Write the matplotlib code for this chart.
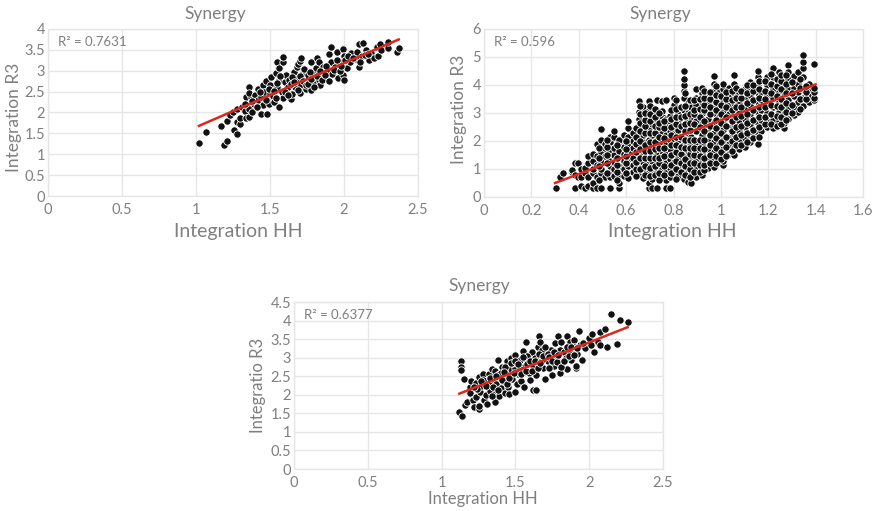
import matplotlib
matplotlib.use('Agg')
import matplotlib.pyplot as plt

plt.rcParams['font.family'] = ['Lato', 'DejaVu Sans']

# panel 1 as (HH, R3)
pts_a = [(1.02,1.28),(1.07,1.54),(1.17,1.67),(1.19,1.21),(1.21,1.32),(1.21,1.8),(1.23,1.95),(1.25,2.0),(1.26,1.57),(1.28,1.48),
 (1.28,1.78),(1.3,1.73),(1.28,2.08),(1.3,1.87),(1.31,2.13),(1.33,2.03),(1.34,1.87),(1.34,2.38),(1.36,2.08),(1.36,2.62),
 (1.36,1.9),(1.37,2.38),(1.36,2.47),(1.38,2.0),(1.39,2.2),(1.4,2.42),(1.42,2.3),(1.42,2.56),(1.44,1.96),(1.44,2.37),
 (1.45,2.18),(1.45,2.66),(1.46,2.49),(1.47,2.75),(1.48,1.96),(1.48,2.33),(1.49,2.21),(1.5,2.47),(1.5,2.66),(1.51,2.84),
 (1.52,2.4),(1.53,2.24),(1.54,2.95),(1.55,2.6),(1.56,2.13),(1.55,3.22),(1.56,2.78),(1.56,3.06),(1.58,2.5),(1.59,2.35),
 (1.59,3.2),(1.59,3.33),(1.6,2.72),(1.61,2.9),(1.62,2.6),(1.63,2.78),(1.64,2.32),(1.65,2.45),(1.66,2.96),(1.67,2.6),
 (1.68,2.8),(1.68,3.08),(1.69,3.16),(1.7,3.23),(1.71,3.3),(1.7,2.46),(1.71,2.66),(1.72,2.95),(1.74,2.56),(1.75,2.78),
 (1.76,2.9),(1.78,2.55),(1.78,3.22),(1.79,2.7),(1.8,2.94),(1.81,3.06),(1.82,3.3),(1.83,2.78),(1.83,3.2),(1.84,2.65),
 (1.85,2.96),(1.86,3.1),(1.88,2.8),(1.89,3.0),(1.9,3.4),(1.91,3.57),(1.91,3.2),(1.92,2.92),(1.94,3.1),(1.95,3.45),
 (1.96,2.82),(1.97,3.22),(1.99,3.53),(1.99,2.9),(2.0,2.78),(2.0,3.35),(2.02,3.07),(2.04,3.2),(2.05,3.42),(2.08,3.28),
 (2.09,3.46),(2.1,3.09),(2.1,3.63),(2.12,3.35),(2.13,3.66),(2.15,3.5),(2.17,3.26),(2.18,3.42),(2.2,3.3),(2.22,3.56),
 (2.23,3.35),(2.24,3.65),(2.25,3.5),(2.3,3.54),(2.3,3.69),(2.36,3.44),(2.37,3.55),
 # denser middle of the band
 (1.33,2.2),(1.38,2.28),(1.41,2.12),(1.43,2.48),(1.47,2.3),(1.49,2.56),(1.53,2.52),(1.54,2.35),(1.55,2.7),(1.57,2.88),
 (1.6,2.5),(1.62,2.42),(1.64,2.68),(1.65,2.86),(1.66,2.72),(1.69,2.55),(1.7,2.88),(1.72,2.75),(1.73,3.05),(1.74,2.65),
 (1.76,2.68),(1.77,2.98),(1.78,2.8),(1.8,2.62),(1.82,2.88),(1.84,3.0),(1.85,2.78),(1.87,2.9),(1.88,3.12),(1.9,2.75),
 (1.93,3.02),(1.95,3.25),(1.97,3.0),(1.98,3.12),(2.01,3.25),(2.03,3.35),(2.06,3.3),(2.11,3.22),(2.14,3.38),(2.16,3.4)]

# panel 2, the cloud sits in columns so one x with its y values
cols_b = [(0.305,[0.33]),(0.32,[0.7]),(0.335,[0.87]),(0.37,[0.88,0.98]),(0.385,[0.32,0.8,1.2]),(0.395,[1.2,0.7]),
 (0.41,[0.4,0.7,1.0]),(0.425,[0.33,0.85,1.05]),(0.44,[0.4,0.7,1.2,1.45]),(0.46,[0.33,0.5,0.85,1.0,1.3,1.55]),
 (0.475,[0.33,0.7,1.15,1.45,1.9]),(0.495,[0.33,0.85,1.0,1.25,1.6,2.02,2.42]),(0.51,[0.7,1.45,1.75,1.9]),
 (0.53,[0.33,0.7,0.9,1.1,1.3,1.6,1.95,2.15]),(0.55,[0.75,1.0,1.25,1.5,1.75,2.15,2.37]),
 (0.57,[0.33,0.5,0.8,1.1,1.4,1.65,1.95,2.05]),(0.59,[0.75,1.0,1.3,1.55,1.8,2.2]),
 (0.61,[0.68,1.1,1.35,1.6,1.85,2.15,2.45,2.7]),(0.63,[0.9,1.15,1.4,1.75,2.0,2.3]),
 (0.655,[0.85,1.1,1.3,1.55,1.8,2.1,2.5,2.8,3.05,3.42]),(0.67,[0.68,0.95,1.25,1.5,1.95,2.2,2.65,3.2]),
 (0.695,[0.33,0.5,0.9,1.2,1.75,2.05,2.4,2.85,3.1,3.42]),(0.71,[0.33,0.65,1.0,1.3,1.55,1.85,2.2,2.6,3.0]),
 (0.73,[0.33,0.9,1.15,1.5,1.8,2.05,2.4,2.75,3.45]),(0.75,[0.7,1.0,1.3,1.65,1.95,2.3,2.55,2.9,3.08,3.42]),
 (0.77,[0.33,0.6,0.9,1.2,1.55,1.85,2.2,2.6,2.8,3.45]),(0.785,[0.33,0.7,1.05,1.35,1.7,2.05,2.35,2.7,2.9]),
 (0.8,[0.9,1.25,1.55,1.95,2.3,2.5,2.7,3.3,3.55]),(0.82,[0.75,1.05,1.4,1.7,2.05,2.4,2.75,2.95]),
 (0.845,[0.65,0.95,1.2,1.45,1.9,2.2,2.45,3.1,3.55,3.8,4.0,4.2,4.5]),(0.86,[0.55,0.9,1.3,1.65,2.0,2.3,2.75,3.0,3.35]),
 (0.875,[0.5,0.8,1.1,1.45,1.85,2.15,2.5,2.85,3.2]),(0.895,[0.7,1.0,1.3,1.6,1.95,2.35,2.7,3.3,3.55,3.85]),
 (0.92,[0.78,1.05,1.25,1.55,1.9,2.2,2.6,3.0,3.4,3.7,3.9]),(0.945,[1.05,1.35,1.7,2.05,2.45,2.8,3.1,3.35,3.6]),
 (0.97,[1.08,1.4,1.6,1.95,2.3,2.65,3.0,3.25,3.8,4.02,4.32]),(0.99,[1.25,1.5,1.85,2.2,2.55,2.85,3.2,3.55,3.75]),
 (1.01,[1.15,1.3,1.7,2.05,2.4,2.7,3.05,3.4,3.85,4.05]),(1.035,[1.55,1.9,2.15,2.5,2.95,3.3,3.6,3.9]),
 (1.055,[1.5,1.75,2.05,2.25,2.6,2.95,3.35,3.7,4.05,4.36]),(1.075,[1.7,2.0,2.35,2.7,3.0,3.35,3.7]),
 (1.1,[1.8,2.1,2.5,2.8,3.15,3.5,3.85]),(1.125,[1.95,2.2,2.6,2.95,3.3,3.65,3.9,4.1]),
 (1.155,[1.9,2.3,2.65,3.05,3.4,3.7,3.95,4.28,4.5]),(1.17,[2.35,2.75,3.1,3.45,3.75]),
 (1.195,[2.5,2.7,3.0,3.35,3.65,4.0,4.3]),(1.22,[2.45,2.75,3.2,3.55,3.85,4.3,4.62]),
 (1.245,[2.7,3.05,3.4,3.75,4.05,4.45]),(1.265,[2.48,2.65,2.95,3.3,3.6,3.95,4.25]),
 (1.285,[2.8,3.15,3.45,3.85,4.2,4.7,4.45]),(1.31,[2.93,3.2,3.6,3.9,4.32]),(1.325,[3.05,3.4,3.75,4.05,4.45]),
 (1.345,[3.25,3.55,3.85,4.3,4.62,4.83,5.06]),(1.37,[3.4,3.6,3.85,4.05]),(1.395,[3.45,3.55,3.75,3.88,4.76]),
 # second pass through the thick part of the cloud
 (0.485,[0.6,1.1,1.4,1.75]),(0.52,[0.85,1.2,1.5,1.8,2.05]),(0.56,[0.6,0.9,1.15,1.4,1.85]),(0.6,[0.85,1.2,1.45,1.7,2.0]),
 (0.64,[0.75,1.0,1.25,1.6,1.9,2.15,2.45]),(0.66,[1.0,1.4,1.7,2.0,2.35,2.65,2.95,3.25]),(0.68,[0.8,1.1,1.4,1.65,1.85,2.3,2.55,2.75,3.0]),
 (0.7,[0.75,1.05,1.4,1.65,1.95,2.3,2.7,2.95,3.25]),(0.72,[0.8,1.1,1.4,1.7,1.95,2.3,2.55,2.85,3.15]),
 (0.74,[0.6,0.85,1.2,1.4,1.75,2.15,2.5,2.65,3.0]),(0.76,[0.8,1.1,1.45,1.75,2.1,2.45,2.7]),(0.79,[0.85,1.15,1.5,1.85,2.2,2.5,2.8,3.1]),
 (0.81,[0.65,1.0,1.3,1.6,1.85,2.15,2.6,2.85,3.15,3.45]),(0.83,[0.9,1.2,1.55,1.8,2.15,2.55,2.85,3.2]),
 (0.85,[0.8,1.1,1.35,1.75,2.05,2.35,2.6,2.9,3.25,3.7]),(0.87,[0.7,1.0,1.2,1.55,1.75,2.05,2.4,2.65,2.95,3.45]),
 (0.885,[0.9,1.2,1.5,1.75,2.05,2.6,2.95,3.1,3.45]),(0.91,[0.9,1.15,1.45,1.75,2.05,2.5,2.85,3.15,3.5]),
 (0.93,[0.95,1.15,1.4,1.7,2.05,2.35,2.7,3.1,3.3,3.55,3.8]),(0.955,[1.2,1.5,1.85,2.2,2.55,2.95,3.2,3.5,3.75]),
 (0.98,[1.2,1.45,1.75,2.1,2.45,2.75,3.1,3.4,3.65,3.95]),(1.0,[1.35,1.6,1.95,2.3,2.65,2.95,3.3,3.6]),
 (1.02,[1.45,1.8,2.15,2.55,2.85,3.2,3.5,3.75]),(1.045,[1.65,2.0,2.35,2.7,3.1,3.45,3.8]),(1.065,[1.85,2.15,2.5,2.85,3.2,3.55,3.9]),
 (1.085,[1.85,2.2,2.55,2.9,3.2,3.55,3.8]),(1.11,[1.95,2.3,2.65,2.95,3.35,3.7,4.0]),(1.135,[2.1,2.4,2.75,3.1,3.45,3.8,4.0]),
 (1.16,[2.15,2.5,2.85,3.2,3.55,3.85,4.15]),(1.185,[2.6,2.85,3.2,3.5,3.8,4.15]),(1.21,[2.6,2.95,3.3,3.7,4.05,4.4]),
 (1.235,[2.55,2.9,3.25,3.6,3.95,4.2]),(1.255,[2.6,2.85,3.2,3.5,3.85,4.15,4.35]),(1.275,[2.75,3.05,3.35,3.7,4.05,4.35]),
 (1.3,[3.0,3.3,3.7,4.1]),(1.335,[3.15,3.5,3.9,4.2]),(1.36,[3.5,3.75,3.95])]

# panel 3
pts_c = [(1.12,1.53),(1.14,1.44),(1.13,2.9),(1.13,2.75),(1.13,2.67),(1.15,2.42),(1.16,1.72),(1.17,1.8),(1.19,2.2),(1.19,2.05),
 (1.2,2.36),(1.21,1.85),(1.22,1.68),(1.23,2.33),(1.23,1.95),(1.25,1.62),(1.25,1.7),(1.25,2.47),(1.26,2.08),(1.27,2.25),
 (1.28,2.55),(1.29,1.85),(1.3,2.0),(1.31,1.76),(1.32,2.3),(1.32,2.55),(1.33,2.1),(1.34,2.7),(1.35,2.42),(1.36,2.02),
 (1.36,1.81),(1.36,2.65),(1.37,2.3),(1.38,2.93),(1.39,1.96),(1.39,2.55),(1.4,2.18),(1.41,2.75),(1.42,2.38),(1.43,2.05),
 (1.44,2.9),(1.45,2.55),(1.45,2.22),(1.46,2.02),(1.47,2.7),(1.47,3.0),(1.48,2.42),(1.5,3.08),(1.5,2.72),(1.51,2.3),
 (1.5,2.08),(1.52,2.56),(1.53,2.95),(1.54,2.38),(1.55,3.17),(1.56,2.75),(1.56,2.22),(1.57,3.43),(1.58,2.95),(1.59,2.6),
 (1.6,2.4),(1.61,3.15),(1.62,2.13),(1.62,2.78),(1.64,2.13),(1.64,2.53),(1.65,3.3),(1.65,2.95),(1.66,3.58),(1.67,3.42),
 (1.68,3.2),(1.69,2.72),(1.7,2.43),(1.71,3.05),(1.72,2.9),(1.74,3.22),(1.75,2.53),(1.76,2.78),(1.77,3.4),(1.78,3.0),
 (1.79,3.58),(1.8,2.6),(1.8,3.22),(1.81,3.42),(1.82,2.92),(1.83,3.15),(1.85,2.7),(1.85,3.58),(1.87,3.42),(1.88,2.95),
 (1.89,3.22),(1.9,3.48),(1.91,2.72),(1.91,2.78),(1.92,3.1),(1.93,3.72),(1.94,3.35),(1.95,2.93),(1.97,3.25),(2.0,3.52),
 (2.01,3.33),(2.02,3.65),(2.03,3.15),(2.06,3.42),(2.07,3.33),(2.07,3.69),(2.11,3.77),(2.12,3.28),(2.15,4.17),(2.19,3.37),
 (2.21,4.02),(2.26,3.95),(1.24,2.15),(1.28,2.4),(1.34,1.98),(1.4,2.6),(1.43,2.75),(1.48,2.85),(1.53,2.7),(1.58,3.05),
 (1.63,3.0),(1.68,2.95),(1.73,2.72),(1.77,2.92),(1.84,3.0),(1.87,3.18),(1.9,3.3),(1.96,3.4),
 # denser middle of the band
 (1.22,2.2),(1.27,2.38),(1.3,2.25),(1.33,2.45),(1.35,2.22),(1.37,2.5),(1.38,2.12),(1.41,2.4),(1.42,2.62),(1.44,2.28),
 (1.46,2.45),(1.47,2.85),(1.49,2.58),(1.5,2.9),(1.52,2.82),(1.54,2.55),(1.55,3.02),(1.57,2.65),(1.58,2.82),(1.6,2.92),
 (1.61,2.65),(1.63,2.9),(1.65,2.72),(1.66,3.1),(1.67,2.85),(1.69,3.05),(1.7,3.28),(1.72,3.1),(1.73,3.02),(1.75,2.92),
 (1.76,3.15),(1.78,2.88),(1.79,3.08),(1.81,2.75),(1.83,2.92),(1.85,3.28),(1.86,3.05),(1.88,3.3),(1.9,3.08),(1.92,3.25)]

x_b = [c[0] for c in cols_b for _ in c[1]]
y_b = [v for c in cols_b for v in c[1]]

trend_a = ([1.02, 2.37], [1.68, 3.75])
trend_b = ([0.30, 1.40], [0.50, 4.02])
trend_c = ([1.12, 2.26], [2.03, 3.82])

GREY = '#7f7f7f'
GRID = '#e6e6e6'
W, H = 877, 511

fig = plt.figure(figsize=(W/100, H/100), dpi=100)


def label(xp, yp, s, size, rot=0):
    fig.text(xp/W, 1-yp/H, s, fontsize=size, color=GREY, ha='center', va='center', rotation=rot)


def panel(box, x, y, trend, xmax, xstep, ymax, ystep, r2):
    left, top, right, bottom = box
    ax = fig.add_axes([left/W, 1-bottom/H, (right-left)/W, (bottom-top)/H])
    ax.scatter(x, y, s=28, c='#111111', edgecolors='white', linewidths=0.6, zorder=3, clip_on=False)
    ax.plot(trend[0], trend[1], color='#d9281e', lw=1.8, zorder=4)
    ax.set_xlim(0, xmax)
    ax.set_ylim(0, ymax)
    xt = [i*xstep for i in range(int(round(xmax/xstep))+1)]
    yt = [i*ystep for i in range(int(round(ymax/ystep))+1)]
    ax.set_xticks(xt)
    ax.set_yticks(yt)
    ax.set_xticklabels([f'{v:g}' for v in xt])
    ax.set_yticklabels([f'{v:g}' for v in yt])
    ax.grid(color=GRID, lw=1, zorder=0)
    ax.set_axisbelow(True)
    ax.tick_params(length=0, colors=GREY, labelsize=10.5)
    ax.tick_params(axis='x', pad=5)
    ax.tick_params(axis='y', pad=2)
    for s in ax.spines.values():
        s.set_color(GRID)
        s.set_linewidth(1)
    ax.annotate(r2, xy=(0, 1), xycoords='axes fraction', xytext=(10, -13),
                textcoords='offset pixels', fontsize=9.5, color=GREY, va='center')
    return ax


panel((48, 29, 418, 196), [p[0] for p in pts_a], [p[1] for p in pts_a], trend_a, 2.5, 0.5, 4, 0.5, 'R² = 0.7631')
panel((484, 29, 863, 197), x_b, y_b, trend_b, 1.6, 0.2, 6, 1, 'R² = 0.596')
panel((294, 302, 663, 469), [p[0] for p in pts_c], [p[1] for p in pts_c], trend_c, 2.5, 0.5, 4.5, 0.5, 'R² = 0.6377')

label(215, 14, 'Synergy', 12.5)
label(660, 14, 'Synergy', 12.5)
label(479, 286, 'Synergy', 12.5)
label(238, 231, 'Integration HH', 14)
label(672, 231, 'Integration HH', 14)
label(483, 499, 'Integration HH', 12)
label(14, 117, 'Integration R3', 12.5, 90)
label(459, 109, 'Integration R3', 12.5, 90)
label(258, 385, 'Integratio R3', 12, 90)

fig.savefig('out.png', dpi=100)
